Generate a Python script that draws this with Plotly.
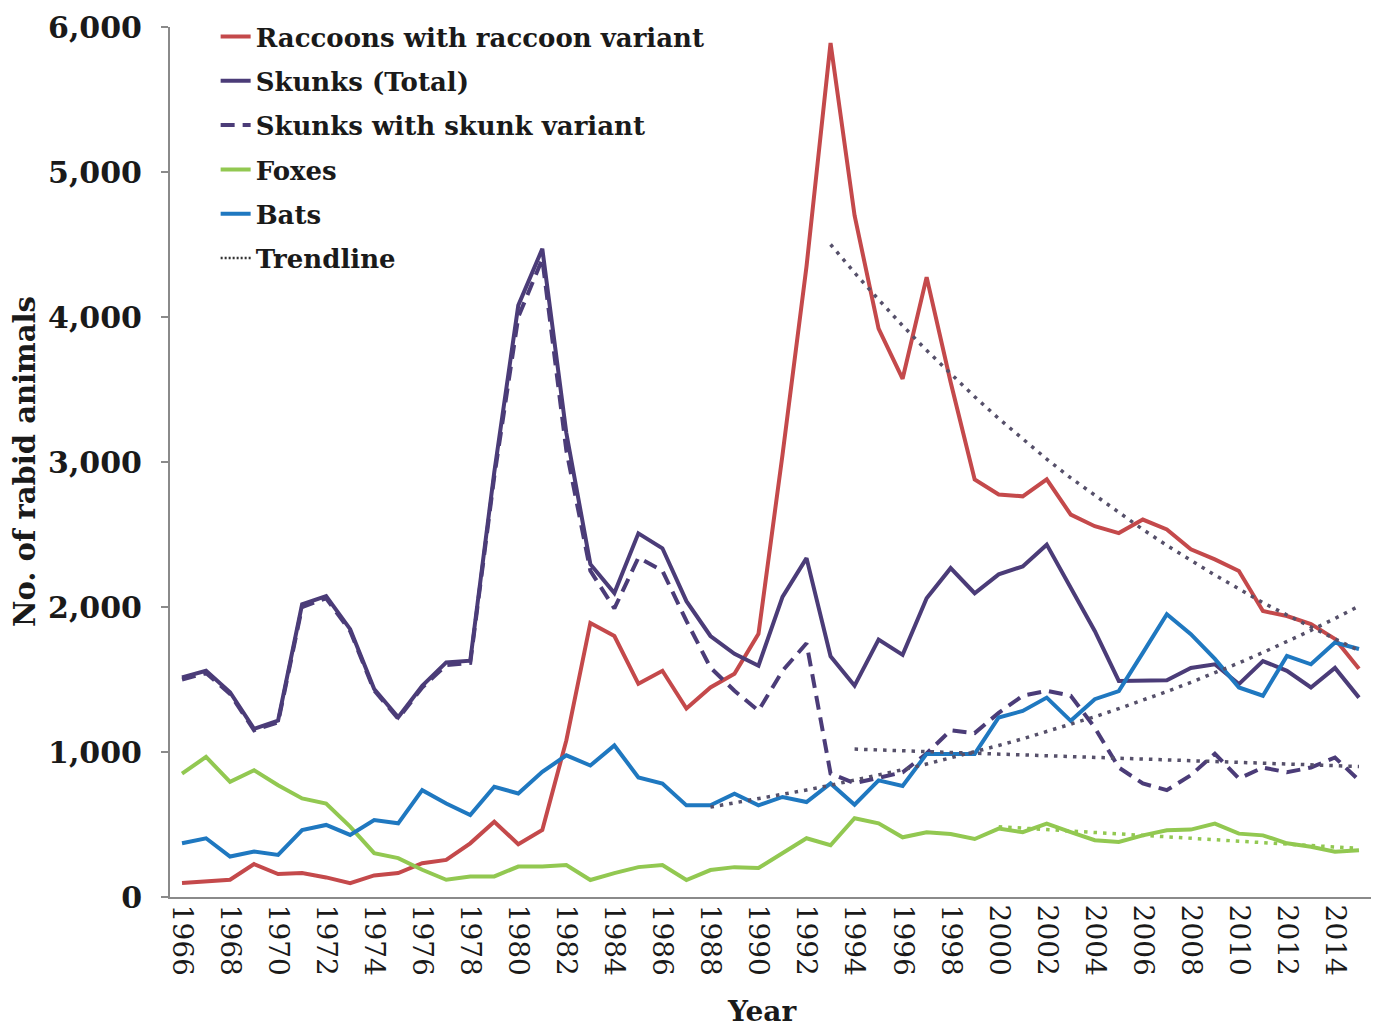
import plotly.graph_objects as go

years = list(range(1966, 2016))

raccoons = [96, 108, 119, 227, 158, 165, 135, 96, 149, 165,
            233, 256, 370, 519, 364, 462, 1080, 1890, 1800, 1470,
            1560, 1300, 1445, 1540, 1815, 3050, 4350, 5890, 4700, 3920,
            3574, 4275, 3550, 2880, 2776, 2763, 2880, 2637, 2557, 2510,
            2603, 2535, 2398, 2328, 2248, 1972, 1938, 1882, 1780, 1574]

skunks_total = [1515, 1560, 1412, 1160, 1217, 2018, 2075, 1847, 1435, 1240,
                1457, 1618, 1630, 2930, 4080, 4470, 3200, 2295, 2096, 2508,
                2405, 2040, 1800, 1677, 1595, 2070, 2337, 1660, 1457, 1775,
                1670, 2060, 2268, 2095, 2225, 2280, 2430, 2130, 1835, 1490,
                1490, 1495, 1580, 1605, 1468, 1627, 1560, 1445, 1580, 1375]

skunks_variant = [1500, 1545, 1400, 1150, 1205, 2000, 2060, 1835, 1425, 1230,
                  1445, 1600, 1615, 2900, 4000, 4400, 3080, 2250, 1990, 2340,
                  2250, 1904, 1582, 1422, 1285, 1560, 1750, 852, 785, 826,
                  860, 990, 1150, 1130, 1270, 1388, 1422, 1388, 1168, 893,
                  783, 737, 840, 988, 817, 893, 860, 893, 962, 805]

foxes = [851, 966, 794, 874, 771, 680, 645, 485, 302, 268,
         188, 119, 142, 142, 210, 210, 220, 117, 165, 206,
         220, 117, 186, 206, 200, 300, 405, 357, 543, 508,
         412, 447, 435, 400, 472, 447, 506, 447, 392, 380,
         425, 460, 465, 506, 437, 425, 370, 347, 312, 323]

bats = [371, 405, 279, 313, 290, 462, 497, 428, 531, 508,
        737, 645, 565, 760, 714, 863, 977, 907, 1045, 825,
        783, 632, 632, 713, 632, 690, 655, 783, 637, 804,
        766, 987, 987, 987, 1238, 1283, 1375, 1215, 1364, 1420,
        1684, 1950, 1813, 1642, 1445, 1388, 1663, 1605, 1755, 1710]

# Trendlines
trend_raccoon_years = list(range(1993, 2016))
trend_raccoon = [4500, 4305, 4120, 3940, 3770, 3610, 3450, 3300, 3160, 3020,
                 2890, 2770, 2650, 2535, 2425, 2320, 2220, 2125, 2030, 1945,
                 1860, 1780, 1700]
trend_bats_years = list(range(1988, 2016))
trend_bats = [620, 648, 677, 707, 738, 771, 805, 841, 878, 917,
              958, 1000, 1045, 1091, 1140, 1190, 1243, 1299, 1356, 1417,
              1480, 1545, 1614, 1686, 1761, 1839, 1921, 2006]
trend_skunk_years = [1994, 2015]
trend_skunk = [1020, 900]
trend_fox_years = [2000, 2015]
trend_fox = [485, 335]

tick_years = list(range(1966, 2015, 2))
y_ticks = [0, 1000, 2000, 3000, 4000, 5000, 6000]

C_RED = "#c4494b"
C_SKUNK = "#4b3c78"
C_GREEN = "#92c851"
C_BLUE = "#1f78c0"
C_TREND = "#56506a"
FONT = "DejaVu Serif"
TXT = "#1a1a1a"

fig = go.Figure()
LW = 4
series = [
    ("Raccoons with raccoon variant", raccoons, C_RED, "solid"),
    ("Skunks (Total)", skunks_total, C_SKUNK, "solid"),
    ("Skunks with skunk variant", skunks_variant, C_SKUNK, "14px,8px"),
    ("Foxes", foxes, C_GREEN, "solid"),
    ("Bats", bats, C_BLUE, "solid"),
]
for i, (name, vals, col, dash) in enumerate(series):
    fig.add_trace(go.Scatter(x=years, y=vals, mode="lines", name=name,
                             legendgroup=f"g{i}",
                             line=dict(color=col, width=LW, dash=dash)))

DOT = "3.5px,6px"
for xs, ys, col in [(trend_raccoon_years, trend_raccoon, C_TREND),
                    (trend_bats_years, trend_bats, C_TREND),
                    (trend_skunk_years, trend_skunk, C_TREND),
                    (trend_fox_years, trend_fox, C_GREEN)]:
    fig.add_trace(go.Scatter(x=xs, y=ys, mode="lines", showlegend=False,
                             line=dict(color=col, width=3.5, dash=DOT)))

fig.add_trace(go.Scatter(x=[None], y=[None], mode="lines", name="Trendline",
                         legendgroup="g9",
                         line=dict(color="#333333", width=2.5, dash="2px,2px")))

# page body has an 8px margin, so the figure is 8px smaller and offset
fig.update_layout(
    width=1371, height=1021,
    margin=dict(l=162, r=8, t=19, b=132, autoexpand=False),
    paper_bgcolor="white", plot_bgcolor="white",
    font=dict(family=FONT, color=TXT),
    showlegend=True,
    legend=dict(x=0.038, y=1.016, xanchor="left", yanchor="top",
                bgcolor="rgba(0,0,0,0)", tracegroupgap=7.5,
                font=dict(family=FONT, size=26, weight="bold", color=TXT)),
    xaxis=dict(range=[1965.5, 2015.5], tickmode="array", tickvals=tick_years,
               ticktext=[str(y) for y in tick_years], tickangle=90,
               showgrid=False, zeroline=False, showline=True,
               linecolor="#8a8a8a", linewidth=2, ticks="",
               automargin=False, ticklabeloverflow="allow",
               tickfont=dict(family=FONT, size=28, color=TXT)),
    yaxis=dict(range=[0, 6000], tickmode="array", tickvals=y_ticks,
               ticktext=[f"{v:,}" for v in y_ticks],
               showgrid=False, zeroline=False, showline=True,
               linecolor="#8a8a8a", linewidth=2, ticks="outside",
               ticklen=7, tickcolor="#8a8a8a", tickwidth=2,
               ticklabelstandoff=13, automargin=False,
               ticklabeloverflow="allow",
               tickfont=dict(family=FONT, size=30, weight="bold", color=TXT)),
    annotations=[
        dict(text="No. of rabid animals", xref="paper", yref="paper",
             x=(25 - 170) / 1201, y=0.5, xanchor="center", yanchor="middle",
             textangle=-90, showarrow=False,
             font=dict(family=FONT, size=29, weight="bold", color=TXT)),
        dict(text="Year", xref="paper", yref="paper",
             x=(762 - 170) / 1201, y=(897 - 1011) / 870,
             xanchor="center", yanchor="middle", showarrow=False,
             font=dict(family=FONT, size=28, weight="bold", color=TXT)),
    ],
)

fig.write_html("out.html")
